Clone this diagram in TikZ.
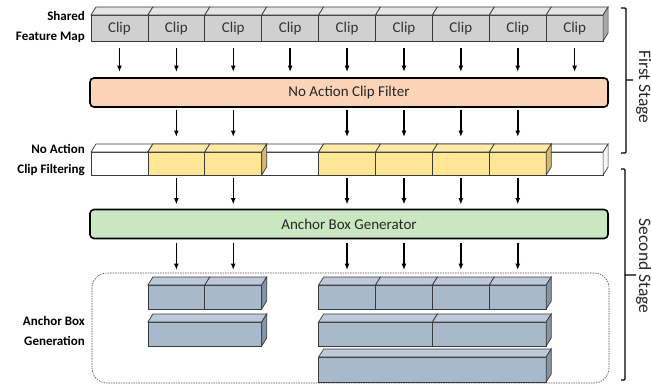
\documentclass[tikz,border=0pt]{standalone}
\usepackage{fontspec}
\setmainfont{Carlito}
\usetikzlibrary{positioning, calc, arrows.meta}

\definecolor{clipfront}{HTML}{D0D0D0}
\definecolor{cliptop}{HTML}{E4E4E4}
\definecolor{clipside}{HTML}{A8A8A8}
\definecolor{blankfront}{HTML}{FFFFFF}
\definecolor{blanktop}{HTML}{FFFFFF}
\definecolor{blankside}{HTML}{F4F4F4}
\definecolor{keepfront}{HTML}{FFE596}
\definecolor{keeptop}{HTML}{FFE9A8}
\definecolor{keepside}{HTML}{D8B96C}
\definecolor{anchfront}{HTML}{A7B9CB}
\definecolor{anchtop}{HTML}{BDC9D8}
\definecolor{anchside}{HTML}{8595A8}
\definecolor{filterfill}{HTML}{FBD3B6}
\definecolor{genfill}{HTML}{C9E8C1}
\definecolor{edge}{HTML}{3A3A3A}

% row of 3d cells: name, x, y (front top), cells, cell width, height, colour, text
\newcommand{\slab}[8]{%
  \foreach \i in {1,...,#4}
    \node[cellbox, fill=#7front, minimum width=#5pt, minimum height=#6pt] (#1-\i) at ({#2+(\i-1)*#5},#3) {#8};
  \foreach \i in {1,...,#4}
    \filldraw[fill=#7top, draw=edge, line width=0.7pt] (#1-\i.north west) -- ++(5,-8) -- ([shift={(5,-8)}]#1-\i.north east) -- (#1-\i.north east) -- cycle;
  \filldraw[fill=#7side, draw=edge, line width=0.7pt] (#1-#4.north east) -- ++(5,-8) -- ([shift={(5,-8)}]#1-#4.south east) -- (#1-#4.south east) -- cycle;
}

\begin{document}
\begin{tikzpicture}[x=1pt, y=-1pt,
    cellbox/.style={draw=edge, line width=0.7pt, inner sep=0, outer sep=0, anchor=north west, font=\fontsize{15}{18}\selectfont, text=black!80},
    stagebox/.style={draw, line width=1.6pt, rounded corners=4pt, minimum width=518pt, minimum height=29pt, inner sep=0, outer sep=0, font=\fontsize{15}{18}\selectfont, text=black!85},
    arr/.style={-{Latex[length=2.2mm, width=1.7mm]}, line width=1.5pt},
    sidetext/.style={anchor=east, align=right, inner sep=0, font=\fontsize{13}{20}\selectfont\bfseries},
    stagetext/.style={rotate=-90, anchor=base, inner sep=0, font=\fontsize{17.5}{20}\selectfont, text=black!85},
    bracket/.style={line width=1.1pt, rounded corners=1pt}]
  \useasboundingbox (0,0) rectangle (651,384);

  % dashed frame round the anchor boxes
  \draw[dashed, dash pattern=on 1.5pt off 1pt, line width=0.6pt, draw=black!70, rounded corners=15pt] (92,273) rectangle (609,383);

  % shared feature map
  \slab{clip}{91}{15}{9}{56.9}{26}{clip}{Clip}

  % clip filtering result
  \slab{blank}{91}{152}{9}{56.9}{23}{blank}{}
  \slab{keepA}{147.9}{152}{2}{56.9}{23}{keep}{}
  \slab{keepB}{318.6}{152}{4}{56.9}{23}{keep}{}

  % anchor boxes
  \slab{anchA}{147.9}{285}{2}{56.9}{24}{anch}{}
  \slab{anchC}{147.9}{322}{1}{113.8}{24}{anch}{}
  \slab{anchB}{318.6}{285}{4}{56.9}{24}{anch}{}
  \slab{anchD}{318.6}{322}{2}{113.8}{24}{anch}{}
  \slab{anchE}{318.6}{357}{1}{227.6}{25}{anch}{}

  \node[stagebox, fill=filterfill] (filter) at (349,92.5) {No Action Clip Filter};
  \node[stagebox, fill=genfill] (gen) at (349,224) {Anchor Box Generator};

  \foreach \i in {1,...,9}
    \draw[arr, shorten <=7pt, shorten >=6pt] (clip-\i.south) -- (clip-\i.south |- filter.north);
  \foreach \c in {keepA-1,keepA-2,keepB-1,keepB-2,keepB-3,keepB-4} {
    \draw[arr, shorten <=3pt, shorten >=15pt] (\c.north |- filter.south) -- (\c.north);
    \draw[arr, shorten <=3pt, shorten >=5pt] (\c.south) -- (\c.south |- gen.north);
  }
  \foreach \c in {anchA-1,anchA-2,anchB-1,anchB-2,anchB-3,anchB-4}
    \draw[arr, shorten <=4pt, shorten >=15pt] (\c.north |- gen.south) -- (\c.north);

  % row labels
  \node[sidetext] (shared) at (85,27) {Shared\\Feature Map};
  \node[sidetext] (filtering) at (85,160) {No Action\\Clip Filtering};
  \node[sidetext] (generation) at (85,331) {Anchor Box\\Generation};

  % stages
  \draw[bracket] (621,8) -- (626,8) -- (626,153) -- (621,153) (626,80) -- (633,80);
  \draw[bracket] (621,169) -- (625,169) -- (625,380) -- (621,380) (625,275) -- (636,275);
  \node[stagetext] (first) at (639,87) {First Stage};
  \node[stagetext] (second) at (639,266) {Second Stage};
\end{tikzpicture}
\end{document}
